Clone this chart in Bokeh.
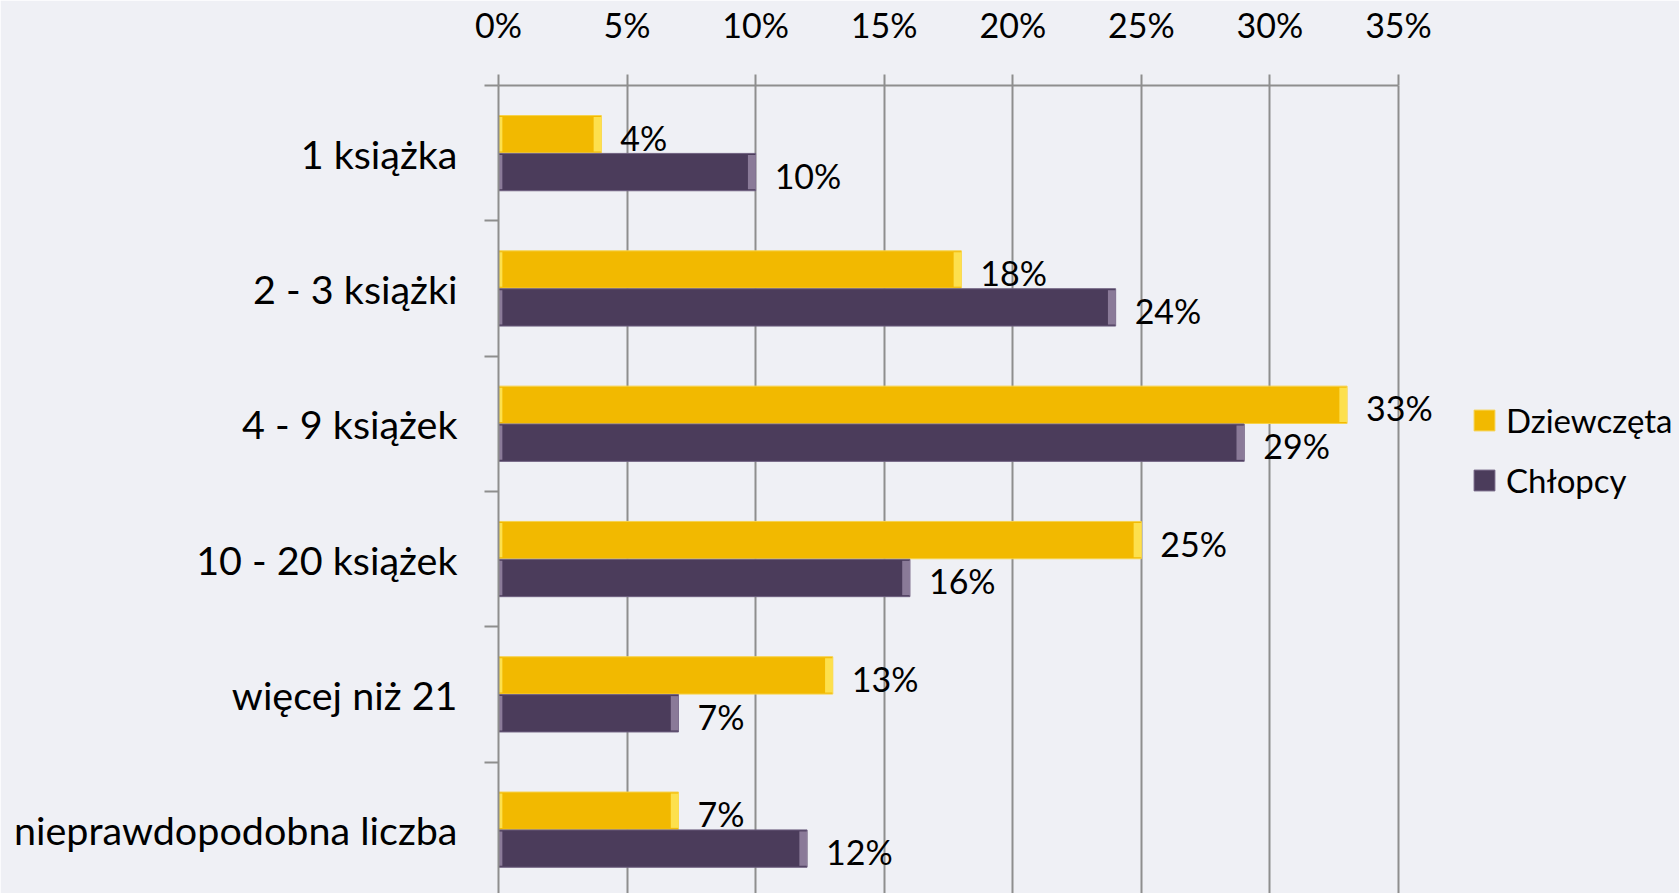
from bokeh.plotting import figure
from bokeh.models import (Range1d, FixedTicker, PrintfTickFormatter, Legend, LegendItem,
                          ColumnDataSource)
from bokeh.core.properties import value
from bokeh.embed import file_html
from bokeh.resources import INLINE

categories = ["1 książka", "2 - 3 książki", "4 - 9 książek", "10 - 20 książek",
              "więcej niż 21", "nieprawdopodobna liczba"]
series_names = ["Dziewczęta", "Chłopcy"]
girls = [4, 18, 33, 25, 13, 7]
boys = [10, 24, 29, 16, 7, 12]
x_ticks = [0, 5, 10, 15, 20, 25, 30, 35]

BG = "#EFF0F5"
GRID = "#8E8E8E"
YELLOW = "#F2B900"
YELLOW_EDGE = "#FFE65A"
YELLOW_LINE = "#F7D24A"
PURPLE = "#4B3C5B"
PURPLE_EDGE = "#9A8AA8"
PURPLE_LINE = "#6F6080"
FONT = "Lato"

W, H = 1679, 893
LEFT, TOP = 498, 85
PX_PER_UNIT = 900 / 35.0
BAND_PX = 135.3

off = 0.14
bh = 0.276
idx = list(range(len(categories)))

x_end = (W - LEFT) / PX_PER_UNIT
y_end = -0.5 + (H - TOP) / BAND_PX

p = figure(width=W, height=H, output_backend="svg", toolbar_location=None,
           x_axis_location="above", x_range=Range1d(0, x_end), y_range=Range1d(y_end, -0.5),
           background_fill_color=BG, border_fill_color=BG,
           outline_line_color=BG, outline_line_width=2,
           min_border_left=LEFT, min_border_right=0, min_border_top=TOP, min_border_bottom=0)

src_g = ColumnDataSource(dict(y=[i - off for i in idx], v=girls,
                              t=[f"{v}%" for v in girls],
                              e=[v - 0.3 for v in girls], z=[0] * len(girls),
                              s=[0.15] * len(girls)))
src_b = ColumnDataSource(dict(y=[i + off for i in idx], v=boys,
                              t=[f"{v}%" for v in boys],
                              e=[v - 0.3 for v in boys], z=[0] * len(boys),
                              s=[0.15] * len(boys)))

rg = p.hbar(y="y", left="z", right="v", height=bh, source=src_g,
            fill_color=YELLOW, line_color=YELLOW_LINE, line_width=1)
rb = p.hbar(y="y", left="z", right="v", height=bh, source=src_b,
            fill_color=PURPLE, line_color=PURPLE_LINE, line_width=1)
# bevel end strips
p.hbar(y="y", left="e", right="v", height=bh * 0.92, source=src_g,
       fill_color=YELLOW_EDGE, line_color=None, fill_alpha=0.85)
p.hbar(y="y", left="z", right="s", height=bh * 0.92, source=src_g,
       fill_color=YELLOW_EDGE, line_color=None, fill_alpha=0.85)
p.hbar(y="y", left="e", right="v", height=bh * 0.92, source=src_b,
       fill_color=PURPLE_EDGE, line_color=None, fill_alpha=0.8)
p.hbar(y="y", left="z", right="s", height=bh * 0.92, source=src_b,
       fill_color=PURPLE_EDGE, line_color=None, fill_alpha=0.8)

for src in (src_g, src_b):
    p.text(x="v", y="y", text="t", source=src, x_offset=19, y_offset=3,
           text_font=value(FONT), text_font_size="34px", text_color="#000000",
           text_align="left", text_baseline="middle")

# x axis (top)
xa = p.xaxis[0]
xa.ticker = FixedTicker(ticks=x_ticks)
xa.bounds = (0, 35)
xa.formatter = PrintfTickFormatter(format="%d%%")
xa.major_label_text_font = FONT
xa.major_label_text_font_size = "34px"
xa.major_label_text_color = "#000000"
xa.major_label_standoff = 30
xa.major_tick_out = 11
xa.major_tick_in = 0
xa.minor_tick_out = 0
xa.minor_tick_in = 0
xa.axis_line_color = GRID
xa.axis_line_width = 2
xa.major_tick_line_color = GRID
xa.major_tick_line_width = 2

# y axis (categories)
ya = p.yaxis[0]
ya.ticker = FixedTicker(ticks=idx, minor_ticks=[i - 0.5 for i in idx] + [len(idx) - 0.5])
ya.major_label_overrides = {i: c for i, c in zip(idx, categories)}
ya.major_label_text_font = FONT
ya.major_label_text_font_size = "39.5px"
ya.major_label_text_color = "#000000"
ya.major_label_standoff = 27
ya.major_tick_out = 0
ya.major_tick_in = 0
ya.minor_tick_out = 14
ya.minor_tick_in = 0
ya.minor_tick_line_color = GRID
ya.minor_tick_line_width = 2
ya.axis_line_color = GRID
ya.axis_line_width = 2

p.xgrid.ticker = FixedTicker(ticks=x_ticks)
p.xgrid.grid_line_color = GRID
p.xgrid.grid_line_width = 2
p.ygrid.grid_line_color = None

legend = Legend(items=[LegendItem(label=series_names[0], renderers=[rg]),
                       LegendItem(label=series_names[1], renderers=[rb])],
                location=(973, 391), orientation="vertical",
                padding=0, margin=0, spacing=16,
                glyph_width=26, glyph_height=26, label_height=44, label_standoff=9,
                label_text_font=FONT, label_text_font_size="33px",
                label_text_color="#000000",
                background_fill_alpha=0, border_line_color=None)
p.add_layout(legend, "center")

open("out.html", "w").write(file_html(p, INLINE))
